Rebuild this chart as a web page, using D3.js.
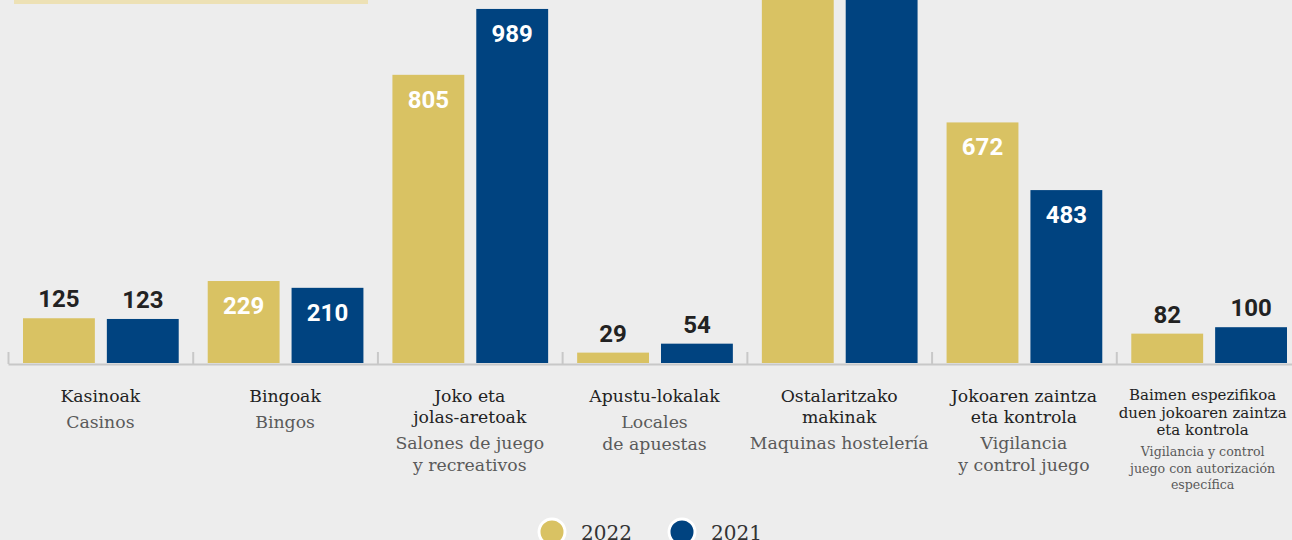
<!DOCTYPE html>
<html>
<head>
<meta charset="utf-8">
<script src="https://cdn.jsdelivr.net/npm/d3@7"></script>
<style>
  html, body { margin: 0; padding: 0; background: #ededed; }
  svg { display: block; }
</style>
</head>
<body>
<svg></svg>
<script>
const SVG = d3.select('svg').attr('width', 1292).attr('height', 540);

// --- data
const SERIES = ['2022', '2021'];
const COLORS = ['#d9c263', '#004380'];

const CATS_EU = [
  ['Kasinoak'],
  ['Bingoak'],
  ['Joko eta', 'jolas-aretoak'],
  ['Apustu-lokalak'],
  ['Ostalaritzako', 'makinak'],
  ['Jokoaren zaintza', 'eta kontrola'],
  ['Baimen espezifikoa', 'duen jokoaren zaintza', 'eta kontrola']
];
const CATS_ES = [
  ['Casinos'],
  ['Bingos'],
  ['Salones de juego', 'y recreativos'],
  ['Locales', 'de apuestas'],
  ['Maquinas hostelería'],
  ['Vigilancia', 'y control juego'],
  ['Vigilancia y control', 'juego con autorización', 'específica']
];
// hostelería values are cut off at the top of the picture, estimated
const VALUES_2022 = [125, 229, 805, 29, 1650, 672, 82];
const VALUES_2021 = [123, 210, 989, 54, 1700, 483, 100];

const BASE_Y = 363;

// --- scales
const idx = d3.range(CATS_EU.length);
const x0 = d3.scaleBand().domain(idx).range([8, 1301]).padding(0);
const x1 = d3.scaleBand().domain(SERIES).range([15, x0.bandwidth() - 14]).paddingInner(0.143);
const y = d3.scaleLinear().domain([0, 1014]).range([BASE_Y, 0]);

// title box (cut off by the top edge)
SVG.append('rect').attr('x', 14).attr('y', -40).attr('width', 354).attr('height', 44).attr('fill', '#ede1b5');

// axis with boundary ticks
const edge = d3.scaleLinear().domain([0, idx.length]).range(x0.range());
const axis = d3.axisTop(edge).tickValues(d3.range(idx.length + 1)).tickSize(12).tickSizeOuter(0).tickFormat('');
const axisG = SVG.append('g').attr('transform', `translate(0,${BASE_Y + 1})`).call(axis);
axisG.selectAll('path, line').attr('stroke', '#c8c8c8').attr('stroke-width', 2);

// bars
const rows = idx.map(i => ({ i, vals: [VALUES_2022[i], VALUES_2021[i]] }));
const groups = SVG.selectAll('g.grp').data(rows).join('g')
  .attr('class', 'grp')
  .attr('transform', d => `translate(${x0(d.i)},0)`);

const bars = groups.selectAll('g.bar')
  .data(d => d.vals.map((v, k) => ({ v, k, i: d.i })))
  .join('g').attr('class', 'bar');

bars.append('rect')
  .attr('x', d => x1(SERIES[d.k]))
  .attr('y', d => y(d.v))
  .attr('width', x1.bandwidth())
  .attr('height', d => BASE_Y - y(d.v))
  .attr('fill', d => COLORS[d.k]);

bars.append('text')
  .attr('x', d => x1(SERIES[d.k]) + x1.bandwidth() / 2)
  .attr('y', d => d.v < 150 ? y(d.v) - 11 : y(d.v) + 33)
  .attr('text-anchor', 'middle')
  .attr('font-family', 'Roboto')
  .attr('font-weight', 700)
  .attr('font-size', 24)
  .attr('fill', d => d.v < 150 ? '#222' : '#fff')
  .text(d => d.v);

// category labels
groups.each(function (d) {
  const g = d3.select(this);
  const small = d.i === 6;
  const cx = x0.bandwidth() / 2 + (small ? -6 : 0);
  const t = g.append('text').attr('text-anchor', 'middle').attr('font-family', 'DejaVu Serif');
  let yy = small ? 400 : 402;
  CATS_EU[d.i].forEach(line => {
    t.append('tspan').attr('x', cx).attr('y', yy).attr('font-size', small ? 15 : 17.3).attr('fill', '#222').text(line);
    yy += small ? 17.5 : 21;
  });
  yy += small ? 3.5 : 4.5;
  CATS_ES[d.i].forEach(line => {
    t.append('tspan').attr('x', cx).attr('y', yy).attr('font-size', small ? 12.6 : 17.3).attr('fill', '#5a5a5a').text(line);
    yy += small ? 16.5 : 22;
  });
});

// legend
const legend = SVG.append('g').attr('transform', 'translate(552,532)');
const items = legend.selectAll('g').data(SERIES).join('g')
  .attr('transform', (d, k) => `translate(${k * 130},0)`);
items.append('circle').attr('r', 13).attr('fill', (d, k) => COLORS[k]).attr('stroke', '#fff').attr('stroke-width', 3);
items.append('text').attr('x', 29).attr('y', 8).attr('font-family', 'DejaVu Serif').attr('font-size', 20).attr('fill', '#333').text(d => d);
</script>
</body>
</html>
